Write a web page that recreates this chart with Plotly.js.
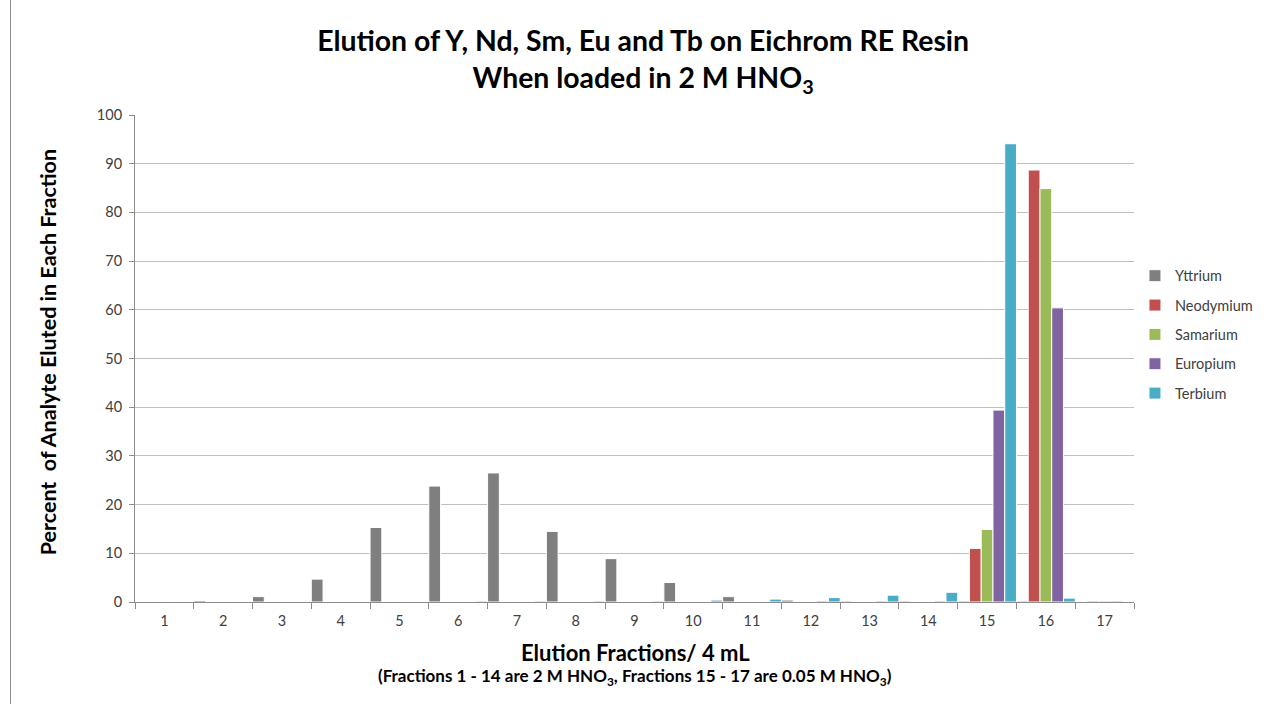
<!DOCTYPE html>
<html>
<head>
<meta charset="utf-8">
<script src="https://cdn.plot.ly/plotly-3.0.1.min.js"></script>
<style>
  html, body { margin: 0; padding: 0; background: #fff; }
  #chart { width: 1266px; height: 704px; }
  #frame { position: absolute; left: 10px; top: 0; width: 0; height: 704px; border-left: 1px solid #8c8c8c; }
</style>
</head>
<body>
<div id="chart"></div>
<div id="frame"></div>
<script>
const fractions = ["1","2","3","4","5","6","7","8","9","10","11","12","13","14","15","16","17"];
const yttrium   = [0, 0.3, 1.1, 4.7, 15.3, 23.8, 26.5, 14.5, 8.9, 4.0, 1.1, 0.4, 0.2, 0.2, 0.2, 0.2, 0];
const neodymium = [0, 0, 0, 0, 0, 0, 0, 0, 0, 0, 0, 0, 0, 0, 11.0, 88.7, 0.2];
const samarium  = [0, 0, 0, 0, 0, 0, 0, 0, 0, 0, 0, 0, 0, 0, 14.9, 84.9, 0.2];
const europium  = [0, 0, 0, 0, 0, 0, 0, 0, 0, 0, 0, 0.2, 0.2, 0.2, 39.4, 60.4, 0.2];
const terbium   = [0, 0, 0, 0, 0, 0.2, 0.2, 0.2, 0.2, 0.4, 0.6, 0.9, 1.4, 2.0, 94.1, 0.8, 0.1];
const seriesNames = ["Yttrium", "Neodymium", "Samarium", "Europium", "Terbium"];
const seriesColors = ["#7f7f7f", "#c0504d", "#9bbb59", "#8064a2", "#4bacc6"];
const seriesData = [yttrium, neodymium, samarium, europium, terbium];

const FONT = "Lato, 'Open Sans', sans-serif";

const traces = seriesData.map((vals, i) => ({
  type: "bar",
  name: seriesNames[i],
  legendgroup: seriesNames[i],
  x: fractions,
  y: vals,
  marker: { color: seriesColors[i], line: { color: "#ffffff", width: 1 } },
  hoverinfo: "x+y+name"
}));

const layout = {
  width: 1266, height: 704,
  paper_bgcolor: "#ffffff", plot_bgcolor: "#ffffff",
  margin: { l: 135, r: 132, t: 115, b: 102 },
  barmode: "group", bargap: 0, bargroupgap: 0,
  font: { family: FONT, color: "#404040" },
  title: {
    text: "<b>Elution of Y, Nd, Sm, Eu and Tb on Eichrom RE Resin<br>When loaded in 2 M HNO<sub>3</sub></b>",
    font: { family: FONT, size: 28.4, color: "#000000" },
    x: 0.508, xanchor: "center", y: 0.928, yanchor: "top"
  },
  xaxis: {
    type: "category",
    tickson: "boundaries",
    ticks: "outside", ticklen: 6, tickcolor: "#8c8c8c",
    showline: true, linecolor: "#8c8c8c", linewidth: 1,
    showgrid: false,
    ticklabelstandoff: 6,
    tickfont: { family: FONT, size: 14.5, color: "#404040" },
    fixedrange: true
  },
  yaxis: {
    range: [0, 100], dtick: 10,
    ticks: "outside", ticklen: 5, tickcolor: "#8c8c8c",
    showline: true, linecolor: "#8c8c8c", linewidth: 1,
    showgrid: true, gridcolor: "#bfbfbf", gridwidth: 1,
    zeroline: false,
    ticklabelstandoff: 4,
    tickfont: { family: FONT, size: 14.5, color: "#404040" },
    fixedrange: true
  },
  legend: {
    xref: "container", yref: "container",
    x: 0.8965, xanchor: "left", y: 0.631, yanchor: "top",
    font: { family: FONT, size: 14.5, color: "#404040" },
    tracegroupgap: 7.5, itemwidth: 30
  },
  annotations: [
    {
      text: "<b>Percent  of Analyte Eluted in Each Fraction</b>",
      xref: "paper", yref: "paper", x: -0.087, y: 0.513, xanchor: "center", yanchor: "middle",
      textangle: -90,
      showarrow: false, font: { family: FONT, size: 21.5, color: "#000000" }
    },
    {
      text: "<b>Elution Fractions/ 4 mL</b>",
      xref: "paper", yref: "paper", x: 0.5015, y: -0.1047, xanchor: "center", yanchor: "middle",
      showarrow: false, font: { family: FONT, size: 22, color: "#000000" }
    },
    {
      text: "<b>(Fractions 1 - 14 are 2 M HNO<sub>3</sub>, Fractions 15 - 17 are 0.05 M HNO<sub>3</sub>)</b>",
      xref: "paper", yref: "paper", x: 0.501, y: -0.154, xanchor: "center", yanchor: "middle",
      showarrow: false, font: { family: FONT, size: 17, color: "#000000" }
    }
  ],
  showlegend: true
};

Plotly.newPlot("chart", traces, layout, { displayModeBar: false, staticPlot: true });
</script>
</body>
</html>
